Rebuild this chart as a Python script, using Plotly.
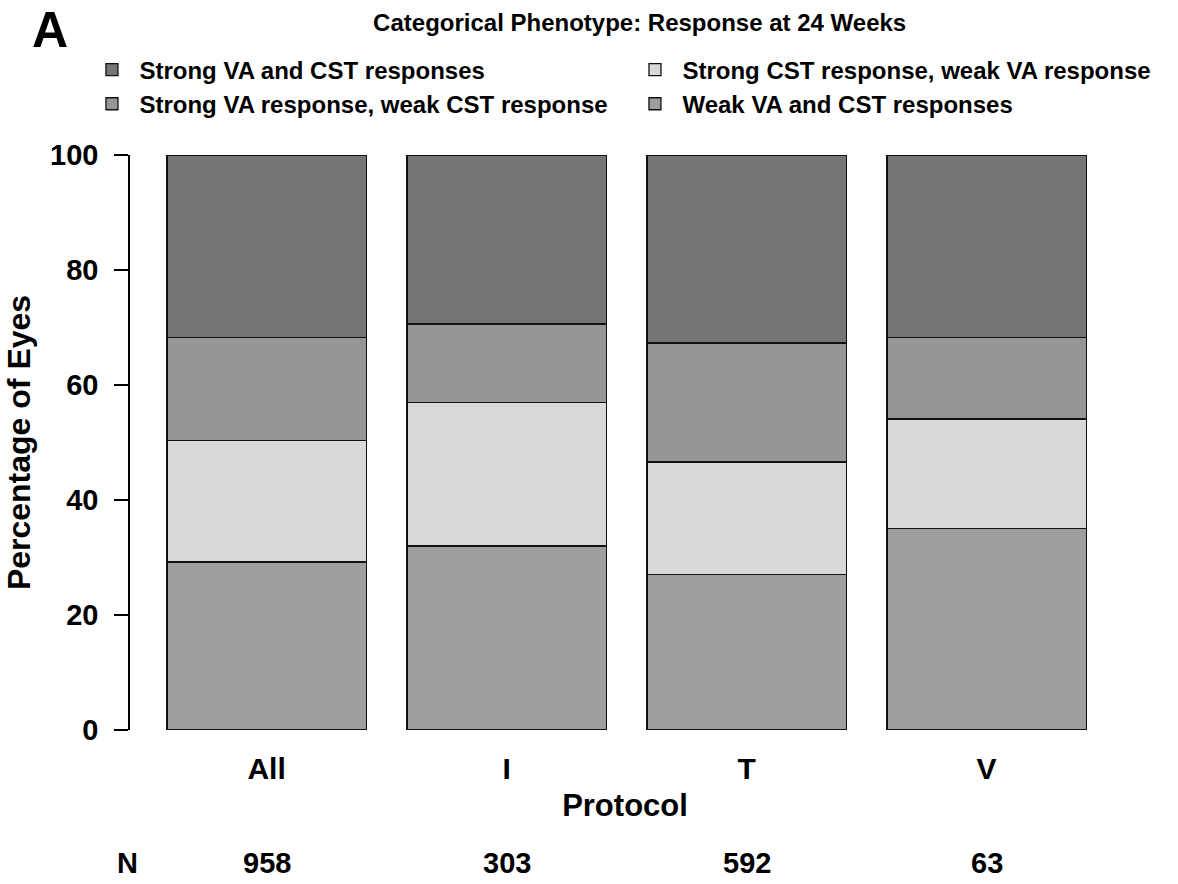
import plotly.graph_objects as go

protocols = ["All", "I", "T", "V"]
n_eyes = ["958", "303", "592", "63"]
weak_both = [29.2, 32.0, 27.1, 35.0]
strong_cst_weak_va = [21.2, 24.9, 19.5, 19.1]
strong_va_weak_cst = [17.9, 13.7, 20.7, 14.2]
strong_both = [31.7, 29.4, 32.7, 31.7]

series = [
    ("Weak VA and CST responses", weak_both, "#9e9e9e", 4),
    ("Strong CST response, weak VA response", strong_cst_weak_va, "#d9d9d9", 2),
    ("Strong VA response, weak CST response", strong_va_weak_cst, "#969696", 3),
    ("Strong VA and CST responses", strong_both, "#757575", 1),
]

FONT = "Liberation Sans"
xpos = list(range(len(protocols)))

fig = go.Figure()
for name, vals, col, rank in series:
    fig.add_trace(go.Bar(
        x=xpos, y=vals, name=name, width=0.83,
        marker=dict(color=col, line=dict(color="#111111", width=1.3)),
        legendrank=rank,
    ))

fig.update_layout(
    barmode="stack",
    width=1178, height=884,
    margin=dict(l=130, r=58, t=155, b=154, autoexpand=False),
    plot_bgcolor="white", paper_bgcolor="white",
    font=dict(family=FONT, color="black"),
    showlegend=True,
    legend=dict(
        orientation="h", traceorder="normal",
        x=-0.046, xanchor="left", y=1.187, yanchor="top",
        entrywidth=483, entrywidthmode="pixels", itemwidth=45,
        font=dict(size=24, family=FONT, weight="bold"),
        itemclick=False, tracegroupgap=0, bgcolor="rgba(0,0,0,0)",
    ),
    title=dict(text="<b>Categorical Phenotype: Response at 24 Weeks</b>",
               x=0.543, xanchor="center", y=0.975, yanchor="middle",
               font=dict(size=24, family=FONT)),
)

fig.update_xaxes(
    range=[-0.569, 3.556], tickvals=xpos, ticktext=protocols,
    showline=False, showgrid=False, zeroline=False, ticks="",
    tickfont=dict(size=30, family=FONT, weight="bold"),
    ticklabelstandoff=18,
    title=dict(text="<b>Protocol</b>", font=dict(size=31, family=FONT), standoff=10),
)
fig.update_yaxes(
    range=[0, 100], tickvals=[0, 20, 40, 60, 80, 100],
    showline=True, linecolor="black", linewidth=1.5,
    ticks="outside", ticklen=14, tickwidth=1.5, tickcolor="black",
    showgrid=False, zeroline=False,
    tickfont=dict(size=29, family=FONT, weight="bold"),
    ticklabelstandoff=10,
    title=dict(text="<b>Percentage of Eyes</b>", font=dict(size=32, family=FONT), standoff=10),
)

# N row
NY = -0.231
fig.add_annotation(x=-0.003, y=NY, xref="paper", yref="paper", text="<b>N</b>",
                   showarrow=False, font=dict(size=29, family=FONT), xanchor="center", yanchor="middle")
for xp, n in zip(xpos, n_eyes):
    fig.add_annotation(x=xp, y=NY, xref="x", yref="paper", text=f"<b>{n}</b>",
                       showarrow=False, font=dict(size=29, family=FONT), xanchor="center", yanchor="middle")

# Panel letter
fig.add_annotation(x=-0.081, y=1.217, xref="paper", yref="paper", xanchor="center", yanchor="middle",
                   text="<b>A</b>", showarrow=False, font=dict(size=50, family=FONT))

fig.write_html("out.html")
